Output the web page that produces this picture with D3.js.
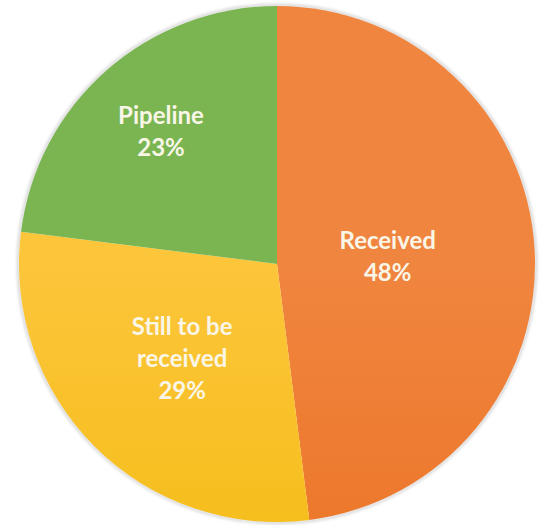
<!DOCTYPE html>
<html>
<head>
<meta charset="utf-8">
<script src="https://cdn.jsdelivr.net/npm/d3@7"></script>
<style>
  body { margin: 0; background: #fff; }
</style>
</head>
<body>
<div id="chart"></div>
<script>
//***************** data *******************/
var categories = ["Received", "Still to be received", "Pipeline"];
var values = [48, 29, 23]; // percent
var labelLines = [["Received"], ["Still to be", "received"], ["Pipeline"]];

//************* dimensions ***************/
var width = 542, height = 525;
var cx = 277, cy = 264, radius = 258;

// colours: top / bottom of a vertical gradient, per slice
var colTop = ["#f0853f", "#fcc53a", "#7ab552"];
var colBottom = ["#e96b18", "#efb800", "#5f9f33"];
// how far out each label sits (fraction of the radius)
var labelPos = [0.43, 0.52, 0.68];

//************** svg *****************/
var svg = d3.select("#chart")
  .append("svg")
    .attr("width", width)
    .attr("height", height);

var defs = svg.append("defs");

defs.append("filter")
    .attr("id", "soft")
  .append("feGaussianBlur")
    .attr("stdDeviation", 1.5);

categories.forEach(function(c, i) {
  var g = defs.append("linearGradient")
    .attr("id", "grad" + i)
    .attr("gradientUnits", "userSpaceOnUse")
    .attr("x1", 0).attr("x2", 0)
    .attr("y1", cy - radius).attr("y2", cy + radius);
  g.append("stop").attr("offset", "0%").attr("stop-color", colTop[i]);
  g.append("stop").attr("offset", "100%").attr("stop-color", colBottom[i]);
});

var g = svg.append("g")
    .attr("transform", "translate(" + cx + "," + cy + ")");

// faint halo round the pie
g.append("circle")
    .attr("r", radius + 1)
    .attr("fill", "none")
    .attr("stroke", "#c8c8c8")
    .attr("stroke-width", 2)
    .attr("filter", "url(#soft)");

//***************** pie *******************/
var pie = d3.pie()
    .sort(null)
    .value(function(d) { return d; });

var arc = d3.arc()
    .innerRadius(0)
    .outerRadius(radius);

var arcs = pie(values);

g.selectAll("path.slice")
  .data(arcs)
  .enter()
  .append("path")
    .attr("class", "slice")
    .attr("d", arc)
    .attr("fill", function(d, i) { return "url(#grad" + i + ")"; });

//***************** labels *******************/
var lineH = 32;

g.selectAll("text.lbl")
  .data(arcs)
  .enter()
  .append("text")
    .attr("class", "lbl")
    .attr("text-anchor", "middle")
    .attr("font-family", "Lato, 'Open Sans', sans-serif")
    .attr("font-weight", "bold")
    .attr("font-size", "24px")
    .attr("fill", "#f9f6e8")
    .each(function(d, i) {
      var r = radius * labelPos[i];
      var la = d3.arc().innerRadius(r).outerRadius(r);
      var c = la.centroid(d);
      var lines = labelLines[i].concat([values[i] + "%"]);
      var top = c[1] - (lines.length - 1) * lineH / 2 + 8;
      var t = d3.select(this);
      lines.forEach(function(s, k) {
        t.append("tspan")
          .attr("x", c[0])
          .attr("y", top + k * lineH)
          .text(s);
      });
    });
</script>
</body>
</html>
